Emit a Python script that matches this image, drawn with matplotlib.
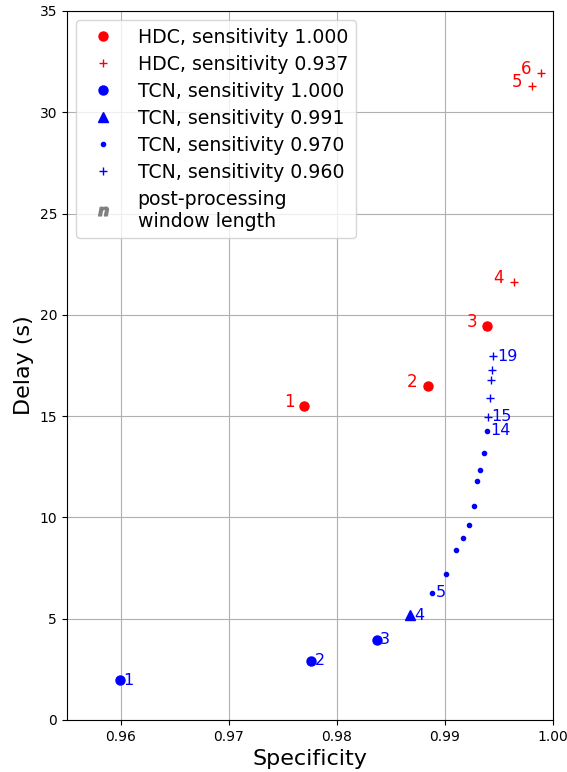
import numpy as np
import matplotlib.pyplot as plt

# HDC, sensitivity 1.000 (window lengths 1-3)
hdc_a_n = [1, 2, 3]
hdc_a_spec = [0.9770, 0.9884, 0.9939]
hdc_a_delay = [15.5, 16.5, 19.45]

# HDC, sensitivity 0.937 (window lengths 4-6)
hdc_b_n = [4, 5, 6]
hdc_b_spec = [0.9964, 0.9981, 0.9989]
hdc_b_delay = [21.6, 31.3, 31.95]

# TCN, sensitivity 1.000
tcn_a_n = [1, 2, 3]
tcn_a_spec = [0.9599, 0.9776, 0.9837]
tcn_a_delay = [1.95, 2.93, 3.95]

# TCN, sensitivity 0.991
tcn_b_n = [4]
tcn_b_spec = [0.9868]
tcn_b_delay = [5.18]

# TCN, sensitivity 0.970
tcn_c_n = [5, 6, 7, 8, 9, 10, 11, 12, 13, 14]
tcn_c_spec = [0.9888, 0.9901, 0.9910, 0.9917, 0.9922, 0.9927, 0.9930, 0.9933, 0.9936, 0.9939]
tcn_c_delay = [6.27, 7.2, 8.4, 8.97, 9.6, 10.55, 11.78, 12.35, 13.18, 14.27]

# TCN, sensitivity 0.960
tcn_d_n = [15, 16, 17, 18, 19]
tcn_d_spec = [0.9940, 0.9942, 0.9943, 0.9944, 0.9945]
tcn_d_delay = [14.97, 15.9, 16.77, 17.3, 17.95]

hdc_labeled = [1, 2, 3, 4, 5, 6]
tcn_labeled = [1, 2, 3, 4, 5, 14, 15, 19]

fig = plt.figure(figsize=(5.67, 7.72), dpi=100)
ax = fig.add_axes([0.118, 0.0674, 0.857, 0.9184])

ax.plot(hdc_a_spec, hdc_a_delay, 'o', color='red', ms=6.5, ls='none', label='HDC, sensitivity 1.000')
ax.plot(hdc_b_spec, hdc_b_delay, '+', color='red', ms=6, ls='none', label='HDC, sensitivity 0.937')
ax.plot(tcn_a_spec, tcn_a_delay, 'o', color='blue', ms=6.5, ls='none', label='TCN, sensitivity 1.000')
ax.plot(tcn_b_spec, tcn_b_delay, '^', color='blue', ms=7, ls='none', label='TCN, sensitivity 0.991')
ax.plot(tcn_c_spec, tcn_c_delay, '.', color='blue', ms=6, ls='none', label='TCN, sensitivity 0.970')
ax.plot(tcn_d_spec, tcn_d_delay, '+', color='blue', ms=6, ls='none', label='TCN, sensitivity 0.960')
ax.plot([], [], marker=r'$\boldsymbol{n}$', color='gray', ms=7, ls='none',
        label='post-processing\nwindow length')

# window length labels
for n, x, y in zip(hdc_a_n + hdc_b_n, hdc_a_spec + hdc_b_spec, hdc_a_delay + hdc_b_delay):
    if n in hdc_labeled:
        ax.annotate(str(n), (x, y), xytext=(-7, 3), textcoords='offset points',
                    ha='right', va='center', color='red', fontsize=12)

for n, x, y in zip(tcn_a_n + tcn_b_n + tcn_c_n + tcn_d_n,
                   tcn_a_spec + tcn_b_spec + tcn_c_spec + tcn_d_spec,
                   tcn_a_delay + tcn_b_delay + tcn_c_delay + tcn_d_delay):
    if n in tcn_labeled:
        ax.annotate(str(n), (x, y), xytext=(2.5, 0), textcoords='offset points',
                    ha='left', va='center', color='blue', fontsize=11.5)

ax.set_xlim(0.955, 1.0)
ax.set_ylim(0, 35)
ax.set_xticks([0.96, 0.97, 0.98, 0.99, 1.00])
ax.set_xticklabels(['0.96', '0.97', '0.98', '0.99', '1.00'])
ax.set_xlabel('Specificity', fontsize=16)
ax.set_ylabel('Delay (s)', fontsize=16)
ax.grid(True)
ax.legend(loc='upper left', fontsize=13.6, handletextpad=0.85, labelspacing=0.42)

fig.savefig('out.png', dpi=100)
